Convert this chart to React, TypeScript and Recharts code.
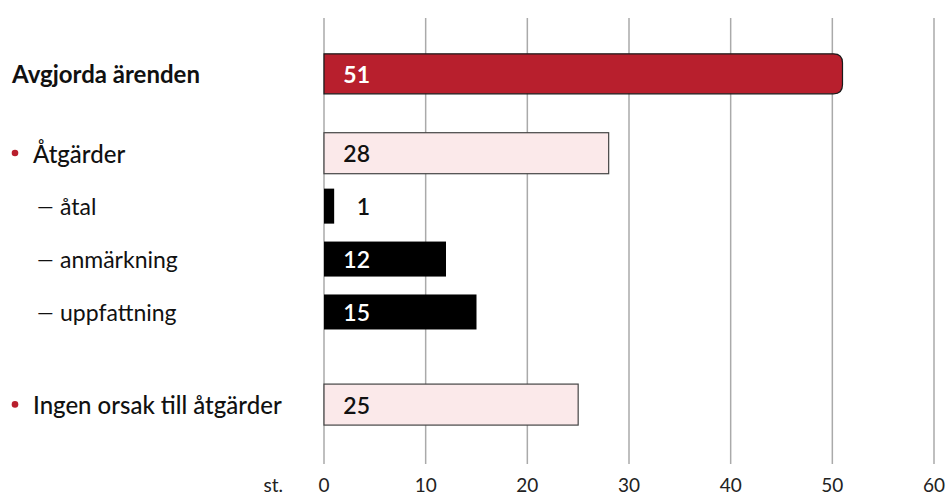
import { BarChart, Bar, XAxis, YAxis, CartesianGrid, Label } from 'recharts';

const categories = ['Avgjorda ärenden', 'Åtgärder', 'åtal', 'anmärkning', 'uppfattning', 'Ingen orsak till åtgärder'];
const values = [51, 28, 1, 12, 15, 25];
const levels = ['total', 'main', 'sub', 'sub', 'sub', 'main'];
const xTicks = [0, 10, 20, 30, 40, 50, 60];
const unitLabel = 'st.';

// empty rows put in front of each category, gives the uneven vertical spacing
const gapsBefore = [0, 5, 3, 3, 3, 6];

const FONT = 'Lato, sans-serif';
const RED = '#b81f2d';

const rows: any[] = [];
categories.forEach((name, i) => {
  for (let g = 0; g < gapsBefore[i]; g++) rows.push({ name: `gap-${i}-${g}`, value: null, level: 'gap' });
  rows.push({ name, value: values[i], level: levels[i] });
});

const levelOf: Record<string, string> = {};
categories.forEach((c, i) => (levelOf[c] = levels[i]));

const valueText = (x: number, cy: number, value: number, fill: string, weight: number) => (
  <text x={x + 46} y={cy} textAnchor="end" dominantBaseline="central"
    fontFamily={FONT} fontSize={23} fontWeight={weight} fill={fill}>
    {value}
  </text>
);

// bar + its value label, height depends on the row level
const BarShape = (props: any) => {
  const { x, y, width, height, payload } = props;
  if (!payload || payload.level === 'gap' || !width) return null;
  const cy = y + height / 2;
  if (payload.level === 'total') {
    const h = 40;
    const r = 9;
    const top = cy - h / 2;
    const right = x + width;
    const d = `M${x},${top} H${right - r} Q${right},${top} ${right},${top + r} V${top + h - r} Q${right},${top + h} ${right - r},${top + h} H${x} Z`;
    return (
      <g>
        <path d={d} fill={RED} stroke="#1a1a1a" strokeWidth={1.2} />
        {valueText(x, cy, payload.value, '#fff', 700)}
      </g>
    );
  }
  if (payload.level === 'main') {
    const h = 41;
    return (
      <g>
        <rect x={x} y={cy - h / 2} width={width} height={h} fill="#fbe9ea" stroke="#444" strokeWidth={1.2} />
        {valueText(x, cy, payload.value, '#111', 600)}
      </g>
    );
  }
  const h = 35;
  const inside = width > 50;
  return (
    <g>
      <rect x={x} y={cy - h / 2} width={width} height={h} fill="#000" />
      {valueText(x, cy, payload.value, inside ? '#fff' : '#111', 600)}
    </g>
  );
};

const CategoryTick = ({ y, payload }: any) => {
  const name = payload?.value;
  const level = levelOf[name];
  if (!level) return null;
  if (level === 'total') {
    return (
      <text x={12} y={y} dominantBaseline="central" fontFamily={FONT} fontSize={24} fontWeight={700} fill="#111">
        {name}
      </text>
    );
  }
  if (level === 'main') {
    return (
      <g>
        <circle cx={15} cy={y} r={3.3} fill={RED} />
        <text x={33} y={y} dominantBaseline="central" fontFamily={FONT} fontSize={24} fontWeight={500} fill="#111">
          {name}
        </text>
      </g>
    );
  }
  return (
    <g>
      <text x={37} y={y} dominantBaseline="central" fontFamily={FONT} fontSize={21} fill="#111">—</text>
      <text x={60} y={y} dominantBaseline="central" fontFamily={FONT} fontSize={23} fill="#111">{name}</text>
    </g>
  );
};

const UnitLabel = ({ viewBox }: any) => {
  if (!viewBox) return null;
  return (
    <text x={viewBox.x - 41} y={viewBox.y + 15} dy="0.71em" textAnchor="end" fontFamily={FONT} fontSize={19} fill="#222">
      {unitLabel}
    </text>
  );
};

export default function App() {
  return (
    <div style={{ position: 'absolute', left: 0, top: 0, background: '#fff' }}>
      <BarChart width={948} height={497} data={rows} layout="vertical"
        margin={{ top: 18, right: 14, bottom: 0, left: 0 }}>
        <CartesianGrid horizontal={false} stroke="#aaa" strokeWidth={1.5} />
        <XAxis type="number" domain={[0, 60]} ticks={xTicks} axisLine={false} tickLine={false}
          height={33} tickMargin={9} tick={{ fontFamily: FONT, fontSize: 19, fill: '#222' }}>
          <Label content={<UnitLabel />} />
        </XAxis>
        <YAxis type="category" dataKey="name" width={324} axisLine={false} tickLine={false}
          padding={{ top: 49, bottom: 53 }} tick={<CategoryTick />} interval={0} />
        <Bar dataKey="value" shape={<BarShape />} isAnimationActive={false} />
      </BarChart>
    </div>
  );
}
